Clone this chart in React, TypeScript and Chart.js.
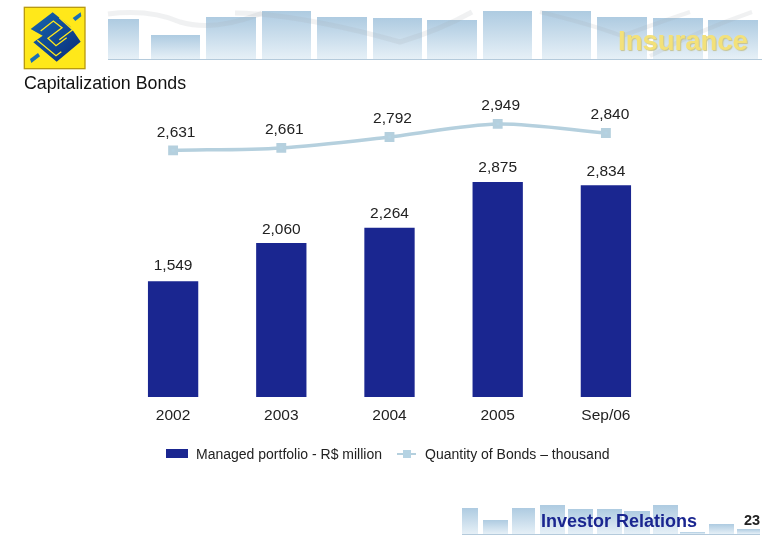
import { useEffect, useRef } from 'react';
import { Chart, registerables, Plugin } from 'chart.js';

Chart.register(...registerables);

const categories = ['2002', '2003', '2004', '2005', 'Sep/06'];
const portfolioValues = [1549, 2060, 2264, 2875, 2834];
const bondQuantities = [2631, 2661, 2792, 2949, 2840];

// label nudges, the source slide has them placed by hand
const lineLabelDx = [3, 3, 3, 3, 4];
const lineLabelDy = [-18, -18, -18, -18, -18];
const barLabelDy = [-15, -13, -14, -14, -13];

// decorative background bars: [x, top, width]
const headerBars = [
  [108, 19, 31], [151, 35, 49], [206, 17, 50], [262, 11, 49], [317, 17, 50], [373, 18, 49],
  [427, 20, 50], [483, 11, 49], [542, 11, 49], [597, 17, 50], [653, 18, 50], [708, 20, 50],
];
const footerBars = [
  [462, 508, 16], [483, 520, 25], [512, 508, 23], [540, 505, 25], [568, 509, 25], [597, 509, 25],
  [624, 511, 26], [653, 505, 25], [680, 532, 25], [709, 524, 25], [737, 529, 23],
];

const FONT = '"Liberation Sans", Arial, sans-serif';

const fmt = (v: number) => v.toLocaleString('en-US');

const valueLabels: Plugin = {
  id: 'valueLabels',
  afterDatasetsDraw(chart) {
    const ctx = chart.ctx;
    ctx.save();
    ctx.font = `15.5px ${FONT}`;
    ctx.fillStyle = '#222';
    ctx.textAlign = 'center';
    ctx.textBaseline = 'middle';
    chart.getDatasetMeta(0).data.forEach((el, i) => {
      ctx.fillText(fmt(portfolioValues[i]), el.x, el.y + barLabelDy[i]);
    });
    chart.getDatasetMeta(1).data.forEach((el, i) => {
      ctx.fillText(fmt(bondQuantities[i]), el.x + lineLabelDx[i], el.y + lineLabelDy[i]);
    });
    ctx.restore();
  },
};

const Backdrop = () => (
  <svg width={780} height={540} style={{ position: 'absolute', left: 0, top: 0 }}>
    <defs>
      <linearGradient id="barFade" x1="0" y1="0" x2="0" y2="1">
        <stop offset="0" stopColor="#aecbe1" />
        <stop offset="1" stopColor="#e6f0f7" />
      </linearGradient>
      <linearGradient id="logoBlue" x1="0" y1="0" x2="1" y2="1">
        <stop offset="0" stopColor="#1668b0" />
        <stop offset="1" stopColor="#0a2a78" />
      </linearGradient>
    </defs>
    {headerBars.map(([x, top, w]) => (
      <rect key={x} x={x} y={top} width={w} height={59 - top} fill="url(#barFade)" />
    ))}
    <path d="M108 14 Q150 9 180 22 Q215 32 262 13" fill="none" stroke="#9fa9b0" strokeOpacity={0.16} strokeWidth={5} />
    <path d="M235 13 Q300 14 400 42 Q440 30 472 12" fill="none" stroke="#9fa9b0" strokeOpacity={0.16} strokeWidth={5} />
    <path d="M540 12 Q590 24 622 36 Q660 22 690 12 M650 56 Q700 30 752 12" fill="none" stroke="#9fa9b0" strokeOpacity={0.16} strokeWidth={4} />
    <line x1={108} y1={59.5} x2={762} y2={59.5} stroke="#b4cadb" />
    {footerBars.map(([x, top, w]) => (
      <rect key={x} x={x} y={top} width={w} height={534 - top} fill="url(#barFade)" />
    ))}
    <line x1={462} y1={534.5} x2={760} y2={534.5} stroke="#b4cadb" />
    <g transform="translate(20 3) scale(0.3333)">
      <rect x={13} y={13} width={182} height={184} fill="#ffe81a" stroke="#b99a10" strokeWidth={4} />
      <polygon points="32,78 98,28 150,70 182,116 110,176 40,118 68,98" fill="url(#logoBlue)" />
      <polyline points="62,84 100,54 126,74 84,106 108,128 140,104" fill="none" stroke="#ffe81a" strokeWidth={4} />
      <polyline points="52,112 108,158 124,146" fill="none" stroke="#ffe81a" strokeWidth={4} />
      <polyline points="118,44 158,80 118,110" fill="none" stroke="#ffe81a" strokeWidth={4} />
      <polygon points="158,45 182,28 184,40 166,54" fill="#1a6fb4" />
      <polygon points="30,168 54,150 60,160 34,180" fill="#1a6fb4" />
    </g>
  </svg>
);

const App = () => {
  const canvasRef = useRef<HTMLCanvasElement | null>(null);

  useEffect(() => {
    document.body.style.margin = '0';
    if (!canvasRef.current) return;
    const chart = new Chart(canvasRef.current, {
      type: 'bar',
      data: {
        labels: categories,
        datasets: [
          {
            label: 'Managed portfolio - R$ million',
            data: portfolioValues,
            backgroundColor: '#1a2690',
            barPercentage: 0.465,
            categoryPercentage: 1,
            yAxisID: 'y',
            order: 2,
          },
          {
            type: 'line',
            label: 'Quantity of Bonds – thousand',
            data: bondQuantities,
            borderColor: '#b5d0de',
            backgroundColor: '#b5d3e3',
            borderWidth: 3.5,
            tension: 0.3,
            pointStyle: 'rect',
            pointRadius: 4.5,
            yAxisID: 'y1',
            order: 1,
          },
        ],
      },
      options: {
        animation: false,
        responsive: false,
        layout: { padding: { left: 119, right: 120, top: 98, bottom: 103 } },
        plugins: { legend: { display: false }, tooltip: { enabled: false } },
        scales: {
          x: {
            grid: { display: false },
            border: { display: false },
            ticks: { color: '#222', font: { family: FONT, size: 15.5 }, padding: 1, maxRotation: 0 },
            afterFit: (scale) => { scale.height = 40; },
          },
          y: { display: false, min: 0, max: 4000 },
          y1: { display: false, min: -330, max: 3260 },
        },
      },
      plugins: [valueLabels],
    });
    return () => chart.destroy();
  }, []);

  const text = (style: React.CSSProperties, s: string) => (
    <div style={{ position: 'absolute', whiteSpace: 'nowrap', fontFamily: FONT, ...style }}>{s}</div>
  );

  return (
    <div style={{ position: 'relative', width: 780, height: 540, overflow: 'hidden', background: '#fff' }}>
      <Backdrop />
      <canvas ref={canvasRef} width={780} height={540} style={{ position: 'absolute', left: 0, top: 0 }} />
      {text({ left: 618, top: 25, fontSize: 27.5, fontWeight: 700, color: '#f3e17a', textShadow: '1px 1px 1px #c8c48e' }, 'Insurance')}
      {text({ left: 24, top: 73, fontSize: 17.8, color: '#111' }, 'Capitalization Bonds')}
      <div style={{ position: 'absolute', left: 166, top: 449, width: 22, height: 9, background: '#1a2690' }} />
      {text({ left: 196, top: 446, fontSize: 14, color: '#222' }, 'Managed portfolio - R$ million')}
      <div style={{ position: 'absolute', left: 397, top: 452.5, width: 19, height: 2.5, background: '#b5d0de' }} />
      <div style={{ position: 'absolute', left: 402.5, top: 450, width: 8, height: 8, background: '#b5d3e3' }} />
      {text({ left: 425, top: 446, fontSize: 14, color: '#222' }, 'Quantity of Bonds – thousand')}
      {text({ left: 541, top: 511, fontSize: 18, fontWeight: 700, color: '#1a2690' }, 'Investor Relations')}
      {text({ left: 744, top: 512, fontSize: 14.5, fontWeight: 700, color: '#222' }, '23')}
    </div>
  );
};

export default App;
